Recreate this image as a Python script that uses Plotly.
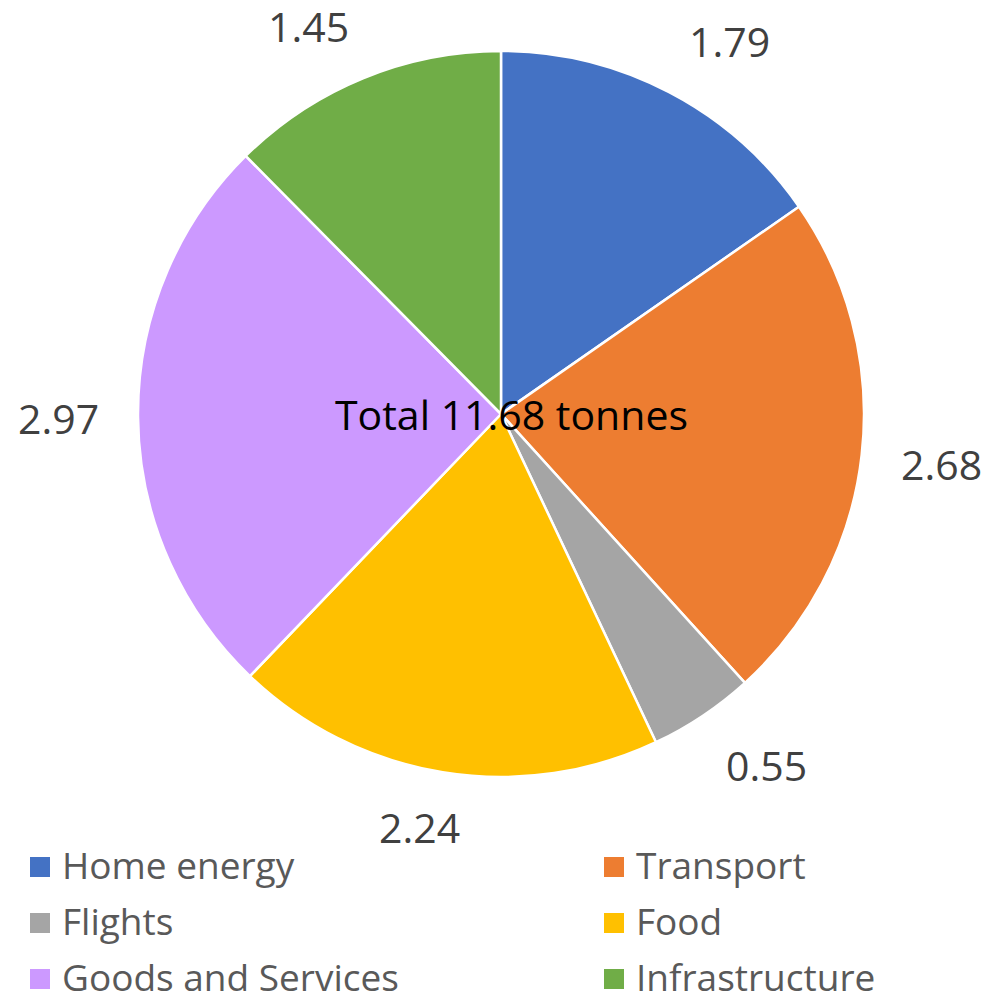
import math
import plotly.graph_objects as go

# Annual footprint by category (tonnes CO2e)
categories = ["Home energy", "Transport", "Flights", "Food", "Goods and Services", "Infrastructure"]
tonnes = [1.79, 2.68, 0.55, 2.24, 2.97, 1.45]
colors = ["#4472C4", "#ED7D31", "#A5A5A5", "#FFC000", "#CC99FF", "#70AD47"]

W, H = 992, 997
CX, CY, R = 501, 414, 363          # pie centre and radius in pixels
LABEL_R = 400                        # anchor radius for the outside value labels
FONT = "Open Sans"

total = sum(tonnes)

fig = go.Figure(go.Pie(
    labels=categories,
    values=tonnes,
    sort=False,
    direction="clockwise",
    rotation=0,
    marker=dict(colors=colors, line=dict(color="white", width=2.5)),
    textinfo="none",
    hoverinfo="label+value",
    showlegend=False,
    domain=dict(x=[(CX - R) / W, (CX + R) / W], y=[1 - (CY + R) / H, 1 - (CY - R) / H]),
))

# Value labels placed just outside each slice, nudged away from the rim
annotations = []
cum = 0.0
for v in tonnes:
    mid = (cum + v / 2) / total * 2 * math.pi
    cum += v
    s, c = math.sin(mid), math.cos(mid)
    px = CX + LABEL_R * s
    py = CY - LABEL_R * c
    kx = max(-1.0, min(1.0, 2.5 * s))
    ky = max(-1.0, min(1.0, 2.5 * c))
    annotations.append(dict(
        x=px / W, y=1 - py / H, xref="paper", yref="paper",
        text=f"{v:.2f}", showarrow=False,
        xanchor="center", yanchor="middle",
        xshift=43 * kx, yshift=18 * ky,
        font=dict(family=FONT, size=41, color="#404040"),
    ))

annotations.append(dict(
    x=511 / W, y=1 - CY / H, xref="paper", yref="paper",
    text=f"Total {total:.2f} tonnes", showarrow=False,
    xanchor="center", yanchor="middle",
    font=dict(family=FONT, size=41, color="#000000"),
))

# Two-column legend underneath the pie: coloured square + category name
shapes = []
COL_X = [30, 604]
ROW_Y = [867, 923, 979]
SQ = 20
for i, (name, col) in enumerate(zip(categories, colors)):
    x0 = COL_X[i % 2]
    yc = ROW_Y[i // 2]
    shapes.append(dict(
        type="rect", xref="paper", yref="paper",
        x0=x0 / W, x1=(x0 + SQ) / W,
        y0=1 - (yc + SQ / 2) / H, y1=1 - (yc - SQ / 2) / H,
        fillcolor=col, line=dict(width=0),
    ))
    annotations.append(dict(
        x=(x0 + 31) / W, y=1 - (yc - 3) / H, xref="paper", yref="paper",
        text=name, showarrow=False,
        xanchor="left", yanchor="middle", borderpad=0,
        font=dict(family=FONT, size=37, color="#595959"),
    ))

fig.update_layout(
    width=W, height=H,
    margin=dict(l=0, r=0, t=0, b=0),
    paper_bgcolor="white",
    annotations=annotations,
    shapes=shapes,
    showlegend=False,
)

fig.write_html("out.html")
